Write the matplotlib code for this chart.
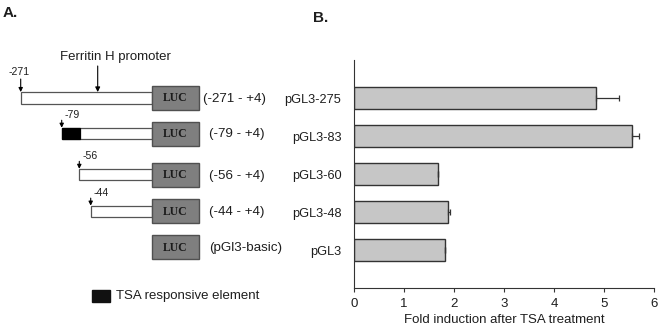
import matplotlib.pyplot as plt
import matplotlib.patches as patches
import numpy as np

plt.rcParams['font.family'] = ['Liberation Sans', 'DejaVu Sans']

# Panel B data
constructs = ['pGL3-275', 'pGL3-83', 'pGL3-60', 'pGL3-48', 'pGL3']
fold = [4.83, 5.55, 1.67, 1.87, 1.82]
fold_err = [0.46, 0.15, 0.01, 0.05, 0.0]

# Panel A data
start_labels = ['-271', '-79', '-56', '-44', None]
range_labels = ['(-271 - +4)', '(-79 - +4)', '(-56 - +4)', '(-44 - +4)', '(pGl3-basic)']
tsa_element = [False, True, False, False, False]

# layout of the schematic (pixel coords)
start_x = [20.7, 61.7, 79.3, 90.7, None]
row_y = [97.8, 133.5, 174.6, 211.4, 247.4]
luc_x0, luc_w, luc_h = 151.7, 47.3, 24
prom_h = 11.5
tsa_w = 18.3

W, H = 662, 335
fig = plt.figure(figsize=(W / 100, H / 100), dpi=100)
txt = '#1e1e1e'
fs = 9.2

# schematic in pixel coordinates
ax0 = fig.add_axes([0, 0, 1, 1])
ax0.set_xlim(0, W)
ax0.set_ylim(H, 0)
ax0.axis('off')

for i, y in enumerate(row_y):
    if start_x[i] is not None:
        x0 = start_x[i]
        ax0.add_patch(patches.Rectangle((x0, y - prom_h / 2), luc_x0 - x0, prom_h,
                                        facecolor='white', edgecolor='#555555', lw=0.9))
        if tsa_element[i]:
            ax0.add_patch(patches.Rectangle((x0, y - prom_h / 2), tsa_w, prom_h,
                                            facecolor='black', edgecolor='black', lw=0.9))
        top = y - prom_h / 2
        alen = 13 if i == 0 else 7.5
        ax0.annotate('', xy=(x0, top), xytext=(x0, top - alen),
                     arrowprops=dict(arrowstyle='-|>', color='black', lw=0.8,
                                     mutation_scale=6, shrinkA=0, shrinkB=0))
        if i == 0:
            ax0.text(x0 - 12.5, top - 20.5, start_labels[i], fontsize=7.6,
                     color=txt, ha='left', va='center')
        else:
            ax0.text(x0 + 3, top - 12.5, start_labels[i], fontsize=7.6,
                     color=txt, ha='left', va='center')
    ax0.add_patch(patches.Rectangle((luc_x0, y - luc_h / 2), luc_w, luc_h,
                                    facecolor='#7f7f7f', edgecolor='#505050', lw=1))
    ax0.text(luc_x0 + luc_w / 2, y + 0.5, 'LUC', fontsize=8.5, fontweight='bold',
             family='Liberation Serif', color='#1a1a1a', ha='center', va='center')
    ax0.text(203 if i == 0 else 209, y + 1, range_labels[i], fontsize=fs + 0.4, color=txt,
             ha='left', va='center')

# Ferritin H promoter arrow
ax0.text(115, 57, 'Ferritin H promoter', fontsize=fs + 0.3, color=txt, ha='center', va='center')
ax0.annotate('', xy=(97.7, row_y[0] - prom_h / 2), xytext=(97.7, 66),
             arrowprops=dict(arrowstyle='-|>', color='black', lw=0.8,
                             mutation_scale=7, shrinkA=0, shrinkB=0))

# legend
ax0.add_patch(patches.Rectangle((91.7, 289.5), 18.3, 12.2, facecolor='#111111', edgecolor='#111111'))
ax0.text(116.5, 296, 'TSA responsive element', fontsize=fs + 0.3, color=txt, ha='left', va='center')

fig.text(3 / W, 1 - 13 / H, 'A.', fontsize=11, fontweight='bold', color=txt, va='center')
fig.text(313 / W, 1 - 18 / H, 'B.', fontsize=11, fontweight='bold', color=txt, va='center')

# Panel B bar chart
ax = fig.add_axes([354 / W, 1 - 288 / H, 300 / W, 228 / H])
ypos = np.arange(1, len(constructs) + 1)
ax.barh(ypos, fold, height=0.6, color='#c6c6c6', edgecolor='#333333', linewidth=1)
ax.errorbar(fold, ypos, xerr=[np.zeros(len(fold_err)), fold_err], fmt='none',
            ecolor='#333333', elinewidth=0.9, capsize=2.5, capthick=0.9)
ax.set_xlim(0, 6)
ax.set_ylim(6, 0)
ax.set_yticks(ypos)
ax.set_yticklabels(constructs, fontsize=fs, color=txt)
ax.tick_params(axis='y', length=0, pad=9)
ax.set_xticks(range(7))
ax.tick_params(axis='x', length=3, width=0.8, color='#333333', labelsize=9.5,
               labelcolor=txt, pad=4)
ax.set_xlabel('Fold induction after TSA treatment', fontsize=fs + 0.3, color=txt, labelpad=3)
for s in ['top', 'right']:
    ax.spines[s].set_visible(False)
for s in ['left', 'bottom']:
    ax.spines[s].set_color('#333333')
    ax.spines[s].set_linewidth(0.8)

fig.savefig('out.png', dpi=100)
